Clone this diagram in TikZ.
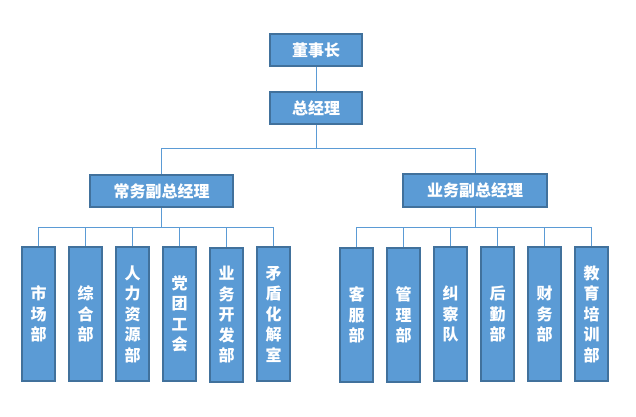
\documentclass[tikz,border=0pt]{standalone}
\usepackage{fontspec}
\newfontfamily\cjk{Noto Sans CJK SC}
\definecolor{boxfill}{HTML}{5B9BD5}
\definecolor{boxline}{HTML}{41719C}
\definecolor{conn}{HTML}{5B9BD5}
\begin{document}
\begin{tikzpicture}[x=1pt,y=-1pt,
  topbox/.style={draw=boxline,line width=1.1pt,fill=boxfill,text=white,inner sep=0pt,font=\cjk\fontsize{16}{18}\selectfont\bfseries},
  deptbox/.style={draw=boxline,line width=1.1pt,fill=boxfill,text=white,inner sep=0pt,minimum width=33pt,minimum height=134pt,align=center,font=\cjk\fontsize{16}{20.5}\selectfont\bfseries},
  link/.style={draw=conn,line width=0.9pt}]
\useasboundingbox (0,0) rectangle (636,416);
\node[topbox,minimum width=92pt,minimum height=32pt] (ch) at (316,50) {董事长};
\node[topbox,minimum width=92pt,minimum height=32pt] (gm) at (316,108) {总经理};
\node[topbox,minimum width=143pt,minimum height=32pt] (vpa) at (161.5,191) {常务副总经理};
\node[topbox,minimum width=144pt,minimum height=33pt] (vpb) at (475,190.5) {业务副总经理};
% left departments
\node[deptbox] (d1) at (38.5,314) {市\\场\\部};
\node[deptbox] (d2) at (85.5,314) {综\\合\\部};
\node[deptbox] (d3) at (132.5,314) {人\\力\\资\\源\\部};
\node[deptbox] (d4) at (179.5,314) {党\\团\\工\\会};
\node[deptbox] (d5) at (226.5,315) {业\\务\\开\\发\\部};
\node[deptbox] (d6) at (273.5,314) {矛\\盾\\化\\解\\室};
% right departments
\node[deptbox] (e1) at (356.5,315) {客\\服\\部};
\node[deptbox] (e2) at (403.5,315) {管\\理\\部};
\node[deptbox] (e3) at (450.5,314) {纠\\察\\队};
\node[deptbox] (e4) at (497.5,314) {后\\勤\\部};
\node[deptbox] (e5) at (544.5,314) {财\\务\\部};
\node[deptbox] (e6) at (591.5,314) {教\\育\\培\\训\\部};
% connectors
\coordinate (busTop) at (316,148);
\coordinate (busA) at (161.5,227);
\coordinate (busB) at (475,227);
\draw[link] (ch.south) -- (gm.north);
\draw[link] (gm.south) -- (busTop);
\draw[link] (busTop) -| (vpa.north);
\draw[link] (busTop) -| (vpb.north);
\draw[link] (vpa.south) -- (busA);
\draw[link] (vpb.south) -- (busB);
\foreach \n in {d1,d2,d3,d4,d5,d6} \draw[link] (busA) -| (\n.north);
\foreach \n in {e1,e2,e3,e4,e5,e6} \draw[link] (busB) -| (\n.north);
\end{tikzpicture}
\end{document}
